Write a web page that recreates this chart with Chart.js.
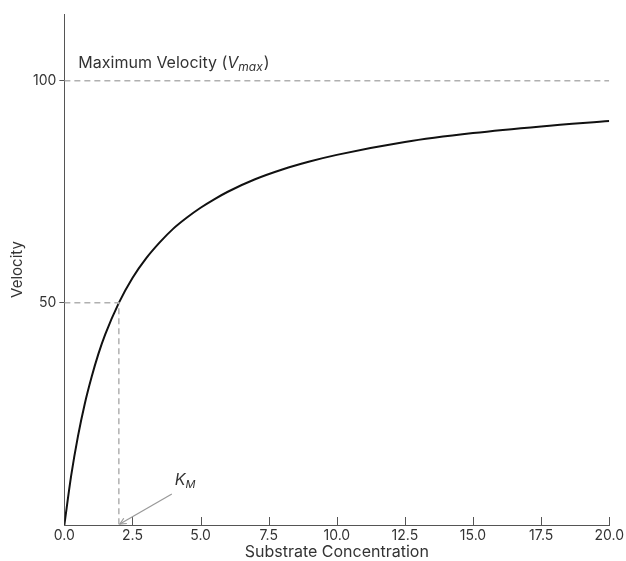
<!DOCTYPE html>
<html>
<head>
<meta charset="utf-8">
<script src="https://cdn.jsdelivr.net/npm/chart.js@4.4.1/dist/chart.umd.min.js"></script>
<style>
  html, body { margin: 0; padding: 0; background: #fff; }
  #wrap { width: 626px; height: 561px; }
</style>
</head>
<body>
<div id="wrap"><canvas id="mmChart" width="626" height="561"></canvas></div>
<script>
// values
let substrate = [0, 0.25, 0.5, 0.75, 1, 1.25, 1.5, 2, 2.5, 3, 3.5, 4, 4.5, 5, 5.5, 6, 7, 8, 9, 10, 12.5, 15, 17.5, 20];
let velocity  = [0, 11.1, 20.0, 27.3, 33.3, 38.5, 42.9, 50.0, 55.6, 60.0, 63.6, 66.7, 69.2, 71.4, 73.3, 75.0, 77.8, 80.0, 81.8, 83.3, 86.2, 88.2, 89.7, 90.9];
let vmax = 100;
let km = 2;
let halfV = 50;
let xTicks = [0, 2.5, 5, 7.5, 10, 12.5, 15, 17.5, 20];
let yTicks = [50, 100];

const FONT = 'Inter, "Open Sans", sans-serif';
const TXT = '#333';
const DASH = '#b0b0b0';

let curvePts = substrate.map((s, i) => ({x: s, y: velocity[i]}));

// extra drawing: inward x ticks, Vmax label, K_M label + arrow
const notes = {
  id: 'notes',
  afterDatasetsDraw(chart) {
    const ctx = chart.ctx;
    const xs = chart.scales.x, ys = chart.scales.y;
    const y0 = ys.getPixelForValue(0);
    ctx.save();
    ctx.strokeStyle = '#555';
    ctx.lineWidth = 1;
    xTicks.forEach(t => {
      if (t === 0) return;
      const px = Math.round(xs.getPixelForValue(t)) + 0.5;
      ctx.beginPath();
      ctx.moveTo(px, y0);
      ctx.lineTo(px, y0 - 8);
      ctx.stroke();
    });

    // Vmax label
    ctx.fillStyle = TXT;
    ctx.textBaseline = 'alphabetic';
    let lx = xs.getPixelForValue(0) + 14;
    let ly = ys.getPixelForValue(vmax) - 13;
    ctx.font = '16px ' + FONT;
    let s1 = 'Maximum Velocity (';
    ctx.fillText(s1, lx, ly); lx += ctx.measureText(s1).width;
    ctx.font = 'italic 16px ' + FONT;
    ctx.fillText('V', lx, ly); lx += ctx.measureText('V').width;
    ctx.font = 'italic 12px ' + FONT;
    ctx.fillText('max', lx, ly + 3); lx += ctx.measureText('max').width + 1;
    ctx.font = '16px ' + FONT;
    ctx.fillText(')', lx, ly);

    // K_M label
    let kx = xs.getPixelForValue(km);
    let tx = kx + 56, ty = y0 - 40;
    ctx.font = 'italic 16px ' + FONT;
    ctx.fillText('K', tx, ty);
    let kw = ctx.measureText('K').width;
    ctx.font = 'italic 11px ' + FONT;
    ctx.fillText('M', tx + kw, ty + 3);

    // arrow
    let ax0 = tx - 3, ay0 = ty + 9;
    let ax1 = kx + 1, ay1 = y0 - 1;
    ctx.strokeStyle = '#999';
    ctx.lineWidth = 1.2;
    ctx.beginPath();
    ctx.moveTo(ax0, ay0);
    ctx.lineTo(ax1, ay1);
    ctx.stroke();
    let ang = Math.atan2(ay1 - ay0, ax1 - ax0);
    ctx.beginPath();
    ctx.moveTo(ax1 - 7 * Math.cos(ang - 0.45), ay1 - 7 * Math.sin(ang - 0.45));
    ctx.lineTo(ax1, ay1);
    ctx.lineTo(ax1 - 7 * Math.cos(ang + 0.45), ay1 - 7 * Math.sin(ang + 0.45));
    ctx.stroke();
    ctx.restore();
  }
};

let chart = document.getElementById('mmChart');
let mmChart = new Chart(chart, {
  type: 'scatter',
  data: {
    datasets: [
      {
        label: 'Vmax',
        data: [{x: 0, y: vmax}, {x: 20, y: vmax}],
        showLine: true,
        borderColor: DASH,
        borderWidth: 1.5,
        borderDash: [6, 4],
        pointRadius: 0
      },
      {
        label: 'Km',
        data: [{x: 0, y: halfV}, {x: km, y: halfV}, {x: km, y: 0}],
        showLine: true,
        borderColor: DASH,
        borderWidth: 1.5,
        borderDash: [6, 4],
        pointRadius: 0
      },
      {
        label: 'Michaelis-Menten',
        data: curvePts,
        showLine: true,
        borderColor: '#111',
        borderWidth: 2,
        cubicInterpolationMode: 'monotone',
        pointRadius: 0
      }
    ]
  },
  options: {
    responsive: false,
    animation: false,
    layout: { padding: { top: 14, right: -4, bottom: -1, left: 8 } },
    plugins: { legend: { display: false }, tooltip: { enabled: false } },
    scales: {
      x: {
        type: 'linear',
        min: 0,
        max: 20,
        afterBuildTicks: axis => { axis.ticks = xTicks.map(v => ({value: v})); },
        grid: { display: false, drawTicks: false },
        border: { display: true, color: '#555', width: 1 },
        ticks: {
          padding: 2,
          color: TXT,
          font: { family: FONT, size: 14 },
          callback: v => v.toFixed(1)
        },
        title: {
          display: true,
          text: 'Substrate Concentration',
          color: TXT,
          font: { family: FONT, size: 16 },
          padding: { top: -3, bottom: 0 }
        }
      },
      y: {
        type: 'linear',
        min: 0,
        max: 115,
        afterBuildTicks: axis => { axis.ticks = yTicks.map(v => ({value: v})); },
        grid: { drawOnChartArea: false, tickLength: 5, color: '#555' },
        border: { display: true, color: '#555', width: 1 },
        ticks: {
          padding: 3,
          color: TXT,
          font: { family: FONT, size: 14 }
        },
        title: {
          display: true,
          text: 'Velocity',
          color: TXT,
          font: { family: FONT, size: 15 },
          padding: { top: 0, bottom: 4 }
        }
      }
    }
  },
  plugins: [notes]
});
</script>
</body>
</html>
